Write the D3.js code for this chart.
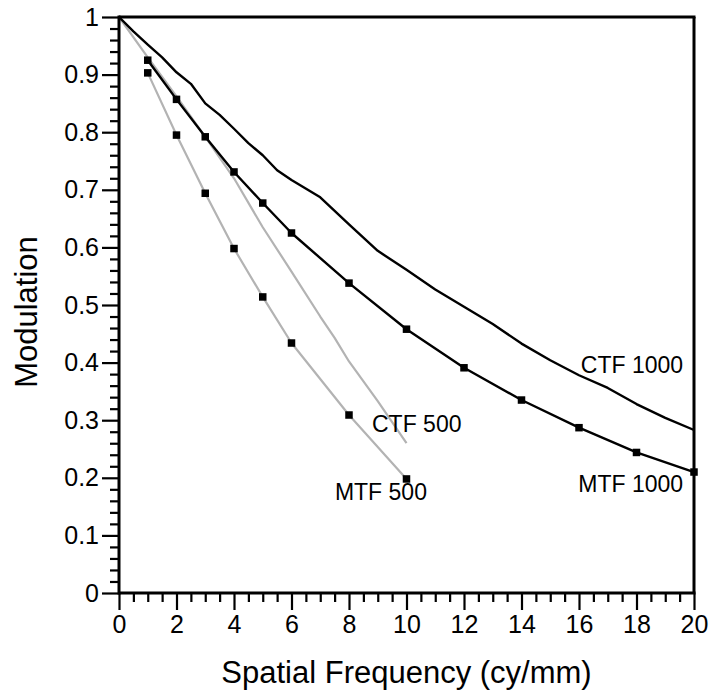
<!DOCTYPE html>
<html>
<head>
<meta charset="utf-8">
<script src="https://cdn.jsdelivr.net/npm/d3@7"></script>
<style>
  html, body { margin: 0; padding: 0; background: #fff; }
  svg { display: block; }
  text { font-family: "Liberation Sans", Arial, sans-serif; fill: #000; }
</style>
</head>
<body>
<script>
// ---- data ----
const ctf1000X = [0, 0.5, 1, 1.5, 2, 2.5, 3, 3.5, 4, 4.5, 5, 5.5, 6, 7, 8, 9, 10, 11, 12, 13, 14, 15, 16, 17, 18, 19, 20];
const ctf1000Y = [1, 0.975, 0.952, 0.93, 0.904, 0.884, 0.85, 0.83, 0.806, 0.781, 0.76, 0.734, 0.717, 0.687, 0.64, 0.594, 0.561, 0.527, 0.497, 0.467, 0.433, 0.404, 0.378, 0.356, 0.328, 0.304, 0.283];

const mtf1000X = [1, 2, 3, 4, 5, 6, 8, 10, 12, 14, 16, 18, 20];
const mtf1000Y = [0.925, 0.857, 0.792, 0.731, 0.677, 0.625, 0.538, 0.458, 0.391, 0.335, 0.287, 0.244, 0.21];

const ctf500X = [0, 1, 2, 3, 4, 5, 6, 7, 7.5, 8, 9, 10];
const ctf500Y = [1, 0.93, 0.862, 0.792, 0.72, 0.635, 0.558, 0.48, 0.443, 0.402, 0.333, 0.26];

const mtf500X = [1, 2, 3, 4, 5, 6, 8, 10];
const mtf500Y = [0.903, 0.795, 0.694, 0.598, 0.514, 0.434, 0.309, 0.198];

const xTickValues = [0, 2, 4, 6, 8, 10, 12, 14, 16, 18, 20];
const yTickValues = [0, 0.1, 0.2, 0.3, 0.4, 0.5, 0.6, 0.7, 0.8, 0.9, 1];
const yTickLabels = ["0", "0.1", "0.2", "0.3", "0.4", "0.5", "0.6", "0.7", "0.8", "0.9", "1"];

const labelTexts = ["CTF 1000", "MTF 1000", "CTF 500", "MTF 500"];
const labelX = [19.62, 19.62, 8.8, 7.51];
const labelY = [0.382, 0.175, 0.28, 0.161];
const labelAnchor = ["end", "end", "start", "start"];

const xTitle = "Spatial Frequency (cy/mm)";
const yTitle = "Modulation";

// ---- drawing ----
const W = 710, H = 696;
const svg = d3.select("body").append("svg").attr("width", W).attr("height", H);

const x = d3.scaleLinear().domain([0, 20]).range([119, 694]);
const y = d3.scaleLinear().domain([0, 1]).range([593, 17]);

const gray = "#b3b3b3";

// series
const zip = (xs, ys) => xs.map((v, i) => [v, ys[i]]);
const line = d3.line().x(d => x(d[0])).y(d => y(d[1]));

const series = [
  { pts: zip(ctf500X, ctf500Y), color: gray, w: 2.2, markers: false },
  { pts: zip(mtf500X, mtf500Y), color: gray, w: 2.2, markers: true },
  { pts: zip(ctf1000X, ctf1000Y), color: "#000", w: 2.4, markers: false },
  { pts: zip(mtf1000X, mtf1000Y), color: "#000", w: 2.4, markers: true }
];

const plot = svg.append("g");
series.forEach(s => {
  plot.append("path").datum(s.pts)
    .attr("d", line)
    .attr("fill", "none")
    .attr("stroke", s.color)
    .attr("stroke-width", s.w)
    .attr("stroke-linejoin", "round");
});
series.filter(s => s.markers).forEach(s => {
  const m = 7.5;
  plot.selectAll(null).data(s.pts).enter().append("rect")
    .attr("x", d => x(d[0]) - m / 2)
    .attr("y", d => y(d[1]) - m / 2)
    .attr("width", m).attr("height", m)
    .attr("fill", "#000");
});

// frame
const frame = svg.append("g").attr("stroke", "#000").attr("stroke-width", 3).attr("fill", "none");
frame.append("line").attr("x1", x(0)).attr("x2", x(20) + 1.5).attr("y1", y(1)).attr("y2", y(1));
frame.append("line").attr("x1", x(20)).attr("x2", x(20)).attr("y1", y(1)).attr("y2", y(0));

// axes
const yMinor = d3.range(0, 51).map(i => i / 50).filter(v => Math.round(v * 50) % 5 !== 0);
const xMinor = d3.range(0, 41).map(i => i / 2).filter(v => Math.round(v * 2) % 4 !== 0);

const yAxisG = svg.append("g").attr("transform", `translate(${x(0)},0)`);
yAxisG.call(d3.axisLeft(y).tickValues(yMinor).tickSize(9).tickFormat(""));
yAxisG.call(g => g.select(".domain").remove());
const yMajorG = svg.append("g").attr("transform", `translate(${x(0)},0)`)
  .call(d3.axisLeft(y).tickValues(yTickValues).tickSize(17).tickPadding(3)
    .tickFormat((d, i) => yTickLabels[i]));
yMajorG.select(".domain").remove();

const xAxisG = svg.append("g").attr("transform", `translate(0,${y(0)})`);
xAxisG.call(d3.axisBottom(x).tickValues(xMinor).tickSize(9).tickFormat(""));
xAxisG.call(g => g.select(".domain").remove());
const xMajorG = svg.append("g").attr("transform", `translate(0,${y(0)})`)
  .call(d3.axisBottom(x).tickValues(xTickValues).tickSize(17).tickPadding(5).tickFormat(d3.format("d")));
xMajorG.select(".domain").remove();

svg.selectAll(".tick line").attr("stroke", "#000").attr("stroke-width", 2.2);
svg.selectAll(".tick text").attr("font-size", 25).attr("font-family", "Liberation Sans, Arial, sans-serif").attr("fill", "#000");

// axis lines
svg.append("line").attr("x1", x(0)).attr("x2", x(0)).attr("y1", y(1) - 1.5).attr("y2", y(0) + 1.5)
  .attr("stroke", "#000").attr("stroke-width", 3);
svg.append("line").attr("x1", x(0)).attr("x2", x(20) + 1.5).attr("y1", y(0)).attr("y2", y(0))
  .attr("stroke", "#000").attr("stroke-width", 3);

// series labels
labelTexts.forEach((t, i) => {
  svg.append("text")
    .attr("x", x(labelX[i])).attr("y", y(labelY[i]))
    .attr("text-anchor", labelAnchor[i])
    .attr("font-size", 23)
    .text(t);
});

// titles
svg.append("text")
  .attr("x", (x(0) + x(20)) / 2).attr("y", 683)
  .attr("text-anchor", "middle")
  .attr("font-size", 31)
  .text(xTitle);

svg.append("text")
  .attr("transform", `translate(37,${(y(0) + y(1)) / 2 + 7}) rotate(-90)`)
  .attr("text-anchor", "middle")
  .attr("font-size", 31)
  .attr("fill", "#222")
  .text(yTitle);
</script>
</body>
</html>
